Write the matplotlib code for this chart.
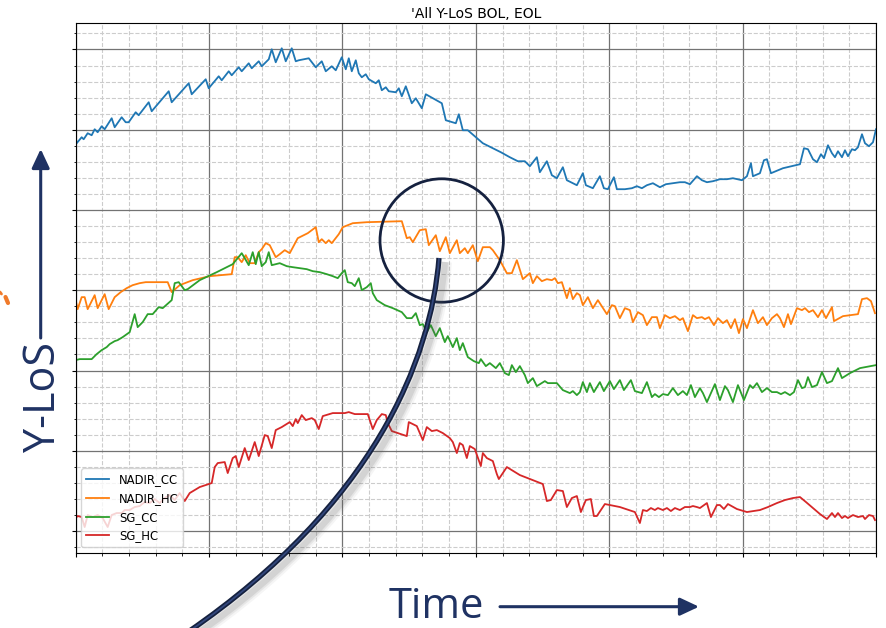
import numpy as np
import matplotlib
matplotlib.use("Agg")
import matplotlib.pyplot as plt
import matplotlib.patches as mpatches
from matplotlib.path import Path
from matplotlib.ticker import MultipleLocator

# sampled traces (time step, Y-LoS level)
nadir_cc_t = [0, 1, 6, 8, 12, 16, 19, 22, 26, 29, 36, 39, 46, 50, 53, 60, 63, 73, 76, 93, 96, 113, 116, 130, 133,
              143, 146, 153, 156, 163, 166, 173, 176, 183, 186, 193, 196, 200, 206, 210, 216, 220, 223, 233, 240,
              246, 250, 256, 260, 266, 270, 273, 276, 280, 283, 286, 290, 293, 300, 303, 306, 310, 313, 320, 323,
              326, 330, 336, 340, 346, 350, 366, 370, 380, 383, 387, 392, 399, 407, 417, 425, 434, 442, 449, 454,
              461, 464, 471, 476, 481, 487, 491, 501, 507, 510, 517, 524, 528, 532, 538, 541, 549, 556, 561, 566,
              571, 577, 584, 590, 597, 604, 609, 614, 621, 626, 631, 637, 644, 651, 657, 666, 671, 675, 677, 684,
              688, 691, 695, 707, 724, 728, 732, 737, 741, 745, 748, 752, 756, 759, 762, 766, 769, 772, 776, 779,
              782, 786, 789, 793, 797, 800]
nadir_cc = [394, 388, 394, 392, 398, 396, 402, 399, 405, 402, 413, 404, 414, 409, 409, 419, 416, 429, 420, 440, 429,
            448, 437, 452, 443, 455, 451, 460, 456, 464, 460, 468, 463, 470, 465, 472, 482, 469, 483, 470, 483, 470,
            471, 473, 464, 470, 460, 465, 461, 474, 462, 473, 460, 471, 458, 454, 457, 452, 448, 451, 441, 444, 440,
            439, 443, 435, 445, 428, 433, 423, 437, 428, 411, 408, 417, 401, 401, 395, 388, 383, 379, 374, 370, 370,
            365, 374, 359, 370, 356, 353, 364, 351, 346, 358, 346, 343, 355, 343, 342, 354, 342, 342, 343, 345, 343,
            346, 348, 344, 347, 348, 349, 349, 347, 355, 351, 349, 350, 352, 352, 353, 351, 355, 368, 355, 358, 371,
            372, 358, 363, 367, 383, 382, 372, 369, 377, 373, 386, 378, 374, 380, 374, 381, 375, 382, 381, 384, 397,
            388, 385, 389, 402]

nadir_hc_t = [0, 2, 6, 9, 12, 19, 22, 29, 33, 39, 45, 51, 57, 64, 70, 77, 85, 92, 96, 104, 117, 134, 156, 159, 162,
              166, 170, 174, 179, 183, 186, 190, 194, 200, 204, 209, 214, 222, 232, 240, 243, 246, 250, 253, 256,
              263, 267, 277, 291, 326, 331, 334, 337, 344, 350, 353, 360, 364, 370, 374, 381, 384, 389, 392, 397,
              402, 407, 414, 417, 424, 431, 436, 441, 447, 454, 457, 461, 466, 471, 476, 479, 482, 486, 491, 494,
              497, 501, 504, 507, 512, 517, 522, 531, 536, 539, 544, 549, 554, 557, 562, 567, 571, 576, 581, 584,
              589, 594, 599, 604, 607, 612, 617, 621, 626, 629, 633, 638, 642, 647, 651, 655, 659, 663, 667, 671,
              677, 682, 687, 691, 696, 701, 704, 708, 712, 715, 721, 726, 729, 733, 737, 742, 746, 750, 756, 758,
              767, 782, 786, 791, 795, 799]
nadir_hc = [231, 222, 234, 234, 222, 236, 223, 237, 222, 234, 239, 243, 246, 248, 249, 249, 249, 249, 239, 246, 251,
            255, 257, 274, 274, 269, 276, 268, 268, 279, 282, 288, 286, 274, 277, 281, 278, 293, 298, 304, 289, 292,
            288, 291, 288, 297, 304, 308, 309, 310, 293, 294, 289, 301, 302, 286, 296, 280, 294, 278, 291, 278, 283,
            278, 286, 270, 284, 284, 281, 271, 258, 258, 271, 252, 258, 248, 255, 250, 252, 251, 253, 248, 249, 233,
            243, 232, 238, 236, 226, 234, 223, 231, 217, 226, 225, 213, 223, 221, 209, 219, 216, 206, 214, 214, 203,
            216, 213, 215, 211, 213, 200, 216, 213, 214, 212, 214, 206, 213, 208, 211, 203, 212, 198, 212, 203, 221,
            208, 214, 206, 213, 217, 213, 204, 217, 207, 223, 221, 223, 219, 221, 214, 221, 213, 224, 210, 215, 217,
            232, 233, 230, 218]

sg_cc_t = [0, 4, 16, 21, 26, 31, 34, 39, 42, 47, 54, 59, 62, 67, 72, 77, 83, 87, 96, 99, 103, 109, 112, 124, 141,
           157, 166, 169, 173, 177, 180, 183, 186, 190, 193, 196, 204, 211, 217, 224, 231, 237, 244, 251, 257, 262,
           266, 269, 272, 276, 279, 283, 286, 291, 295, 297, 301, 309, 317, 326, 331, 336, 340, 344, 347, 351, 355,
           360, 364, 369, 372, 377, 381, 384, 387, 392, 398, 403, 405, 410, 414, 420, 424, 429, 433, 436, 440, 444,
           449, 452, 457, 461, 469, 472, 481, 487, 494, 497, 501, 504, 507, 511, 514, 518, 524, 528, 534, 538, 544,
           548, 555, 559, 566, 571, 576, 579, 583, 587, 592, 597, 602, 607, 611, 615, 619, 624, 627, 631, 639, 644,
           649, 652, 657, 662, 668, 674, 677, 681, 686, 691, 696, 701, 705, 709, 714, 718, 722, 726, 729, 732, 736,
           741, 746, 751, 756, 762, 766, 774, 784, 800]
sg_cc = [171, 172, 172, 177, 181, 184, 187, 190, 191, 194, 199, 217, 204, 209, 217, 217, 224, 223, 231, 248, 249, 241,
         242, 251, 259, 267, 278, 273, 266, 279, 267, 279, 265, 269, 279, 266, 268, 265, 264, 263, 262, 260, 259, 257,
         255, 253, 258, 261, 249, 248, 245, 253, 241, 244, 248, 238, 231, 226, 223, 219, 213, 213, 218, 206, 207, 199,
         206, 195, 203, 189, 195, 184, 193, 181, 188, 174, 170, 168, 172, 165, 168, 163, 168, 158, 156, 166, 159, 165,
         156, 148, 153, 145, 150, 148, 148, 141, 138, 140, 136, 139, 149, 139, 148, 139, 149, 140, 150, 142, 151, 141,
         151, 140, 138, 149, 134, 137, 134, 137, 136, 143, 136, 140, 136, 146, 134, 143, 138, 129, 147, 131, 145, 141,
         129, 146, 131, 146, 143, 148, 139, 143, 139, 139, 137, 139, 136, 139, 151, 143, 144, 154, 144, 146, 159, 148,
         150, 163, 153, 158, 163, 166]

sg_hc_t = [0, 2, 6, 9, 12, 17, 22, 27, 32, 36, 41, 46, 49, 54, 59, 64, 69, 74, 79, 84, 89, 94, 99, 104, 109, 114,
           124, 136, 139, 142, 149, 152, 157, 160, 163, 169, 173, 179, 183, 189, 192, 196, 200, 206, 214, 217, 220,
           222, 226, 230, 236, 239, 243, 247, 257, 264, 269, 273, 279, 284, 292, 297, 301, 306, 310, 312, 316, 331,
           333, 341, 347, 351, 356, 361, 367, 374, 377, 381, 384, 387, 391, 394, 399, 405, 407, 411, 417, 421, 423,
           431, 444, 467, 471, 475, 481, 487, 491, 496, 501, 505, 510, 515, 518, 521, 529, 534, 544, 559, 564, 567,
           571, 575, 579, 582, 587, 591, 595, 599, 604, 609, 614, 617, 621, 624, 631, 635, 641, 644, 648, 652, 661,
           671, 684, 692, 701, 709, 717, 724, 730, 737, 744, 751, 756, 759, 762, 766, 769, 772, 777, 782, 787, 789,
           793, 797, 799]
sg_hc = [13, 15, 14, 4, 16, 14, 16, 13, 4, 16, 18, 18, 21, 21, 24, 25, 29, 28, 32, 28, 33, 36, 31, 38, 30, 38, 44,
         48, 64, 68, 69, 58, 73, 75, 64, 83, 71, 89, 75, 96, 95, 83, 101, 104, 109, 105, 112, 108, 116, 111, 113, 111,
         102, 115, 118, 118, 118, 119, 117, 117, 117, 102, 111, 117, 116, 108, 100, 95, 109, 105, 91, 104, 100, 101,
         98, 93, 89, 78, 88, 86, 73, 85, 82, 65, 78, 73, 70, 57, 52, 64, 56, 47, 30, 31, 41, 40, 24, 33, 35, 19, 31,
         32, 15, 15, 27, 26, 24, 19, 8, 21, 20, 23, 21, 23, 21, 23, 20, 23, 21, 24, 24, 25, 24, 23, 28, 14, 26, 26, 22,
         27, 22, 19, 21, 24, 28, 31, 33, 34, 29, 23, 17, 12, 18, 14, 18, 13, 15, 13, 16, 14, 15, 12, 16, 15, 11]

navy = '#1f3263'
dark_navy = '#15213f'

fig = plt.figure(figsize=(8.86, 6.28), dpi=100)
ax = fig.add_axes([0.0854, 0.1194, 0.9033, 0.8435])

ax.plot(nadir_cc_t, nadir_cc, color='#1f77b4', lw=1.3, label='NADIR_CC')
ax.plot(nadir_hc_t, nadir_hc, color='#ff7f0e', lw=1.3, label='NADIR_HC')
ax.plot(sg_cc_t, sg_cc, color='#2ca02c', lw=1.3, label='SG_CC')
ax.plot(sg_hc_t, sg_hc, color='#d62728', lw=1.3, label='SG_HC')

ax.set_xlim(0, 800)
ax.set_ylim(-22, 508)
ax.xaxis.set_major_locator(MultipleLocator(800 / 6))
ax.xaxis.set_minor_locator(MultipleLocator(800 / 30))
ax.yaxis.set_major_locator(MultipleLocator(80.3))
ax.yaxis.set_minor_locator(MultipleLocator(80.3 / 5))
ax.grid(which='major', color='0.45', lw=0.9)
ax.grid(which='minor', color='0.8', lw=0.8, ls='--')
ax.tick_params(labelleft=False, labelbottom=False)
ax.tick_params(which='major', length=3)
ax.tick_params(which='minor', length=1.8)
ax.set_title("'All Y-LoS BOL, EOL", fontsize=10, pad=4)
ax.legend(loc='lower left', fontsize=8.4)

# axis captions with arrows
fig.text(55, 176, 'Y-LoS', transform=None, rotation=90, rotation_mode='anchor', ha='left', va='baseline',
         fontsize=31, family='Open Sans', color=navy)
fig.text(389, 10, 'Time', transform=None, ha='left', va='baseline', fontsize=30, family='Open Sans', color=navy)
arrow_style = '-|>,head_length=0.96,head_width=0.45'
ax.annotate('', xy=(40.7, 479), xytext=(40.7, 290), xycoords='figure pixels', textcoords='figure pixels',
            arrowprops=dict(arrowstyle=arrow_style, mutation_scale=12, lw=2.2, color=navy,
                            shrinkA=0, shrinkB=0), annotation_clip=False)
ax.annotate('', xy=(699, 21.3), xytext=(500, 21.3), xycoords='figure pixels', textcoords='figure pixels',
            arrowprops=dict(arrowstyle=arrow_style, mutation_scale=12, lw=2.2, color=navy,
                            shrinkA=0, shrinkB=0), annotation_clip=False)

# highlight circle and pointer curve (inches)
fig.add_artist(mpatches.Circle((4.417, 3.875), 0.617, transform=fig.dpi_scale_trans, fill=False,
                               lw=2.0, ec=dark_navy, zorder=5))

verts = [(4.39, 3.70), (4.31, 2.68), (3.74, 1.24), (1.88, -0.04)]
codes = [Path.MOVETO, Path.CURVE4, Path.CURVE4, Path.CURVE4]
pointer = Path(verts, codes)
shadow_tr = fig.dpi_scale_trans + matplotlib.transforms.Affine2D().translate(6, -4)
for w, a in [(10, 0.06), (7, 0.09), (4.5, 0.13)]:
    fig.add_artist(mpatches.PathPatch(pointer, transform=shadow_tr, fill=False, lw=w, ec='0.35',
                                      alpha=a, capstyle='butt', zorder=5))
fig.add_artist(mpatches.PathPatch(pointer, transform=fig.dpi_scale_trans, fill=False, lw=3.8,
                                  ec=dark_navy, capstyle='butt', zorder=6))
fig.add_artist(mpatches.PathPatch(pointer, transform=fig.dpi_scale_trans, fill=False, lw=1.3,
                                  ec='#33477c', capstyle='butt', zorder=6))

# small orange stroke at left edge
ax.annotate('', xy=(8, 325), xytext=(5.5, 331), xycoords='figure pixels', textcoords='figure pixels',
            arrowprops=dict(arrowstyle='-', lw=3, color='#f07a2a', shrinkA=0, shrinkB=0),
            annotation_clip=False)
ax.annotate('', xy=(1.5, 334), xytext=(0, 336), xycoords='figure pixels', textcoords='figure pixels',
            arrowprops=dict(arrowstyle='-', lw=2, color='#f07a2a', shrinkA=0, shrinkB=0),
            annotation_clip=False)

fig.savefig('out.png', dpi=100)
